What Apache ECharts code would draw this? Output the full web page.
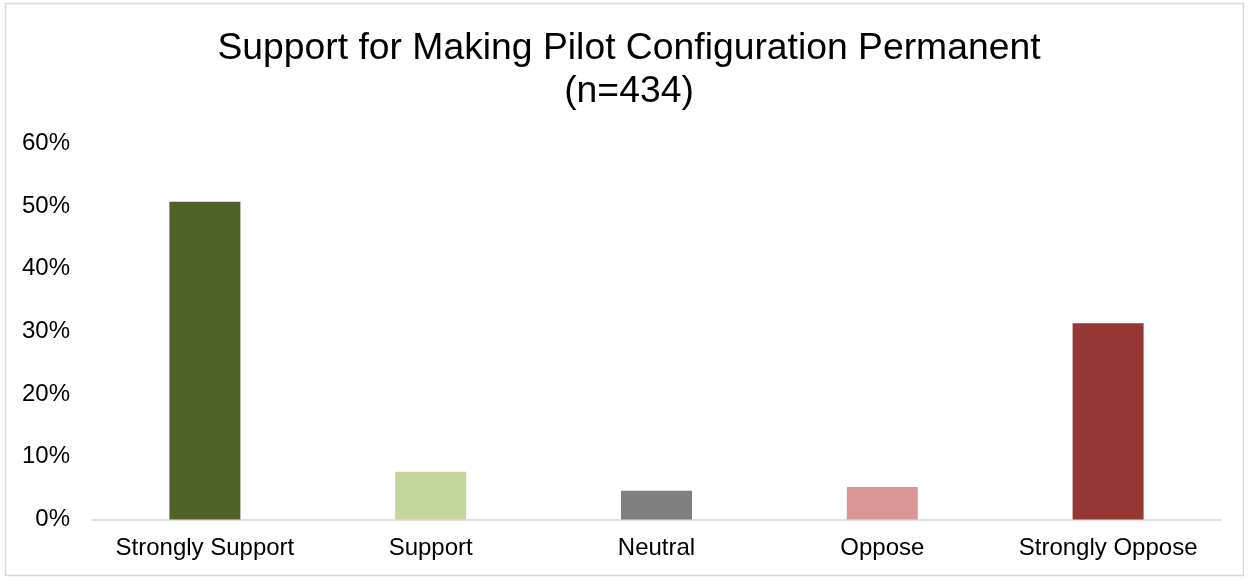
<!DOCTYPE html>
<html>
<head>
<meta charset="utf-8">
<script src="https://cdn.jsdelivr.net/npm/echarts@6/dist/echarts.min.js"></script>
<style>
  html, body { margin: 0; padding: 0; background: #fff; }
  #chart { width: 1249px; height: 579px; }
</style>
</head>
<body>
<div id="chart"></div>
<script>
const categories = ['Strongly Support', 'Support', 'Neutral', 'Oppose', 'Strongly Oppose']
const shares = [50.7, 7.6, 4.6, 5.2, 31.3]
const barColors = ['#4f6228', '#c3d69b', '#7f7f7f', '#d99694', '#953735']
const yTicks = [0, 10, 20, 30, 40, 50, 60]

const chart = echarts.init(document.getElementById('chart'))

const font = 'Liberation Sans, Arial, sans-serif'

const option = {
  backgroundColor: '#fff',
  animation: false,
  title: {
    text: 'Support for Making Pilot Configuration Permanent\n(n=434)',
    left: 624,
    top: 22,
    textAlign: 'center',
    textStyle: {
      fontFamily: font,
      fontSize: 37.3,
      fontWeight: 'normal',
      color: '#000',
      lineHeight: 43,
    },
  },
  graphic: [{
    type: 'rect',
    shape: { x: 5.5, y: 3.5, width: 1238, height: 572 },
    style: { fill: 'none', stroke: '#d9d9d9', lineWidth: 1.5 },
    silent: true,
  }],
  grid: {
    left: 92,
    right: 28,
    top: 143.5,
    bottom: 59.5,
    containLabel: false,
  },
  xAxis: {
    type: 'category',
    data: categories,
    axisLine: { lineStyle: { color: '#d9d9d9', width: 1.5 } },
    axisTick: { show: false },
    axisLabel: {
      interval: 0,
      fontFamily: font,
      fontSize: 24,
      color: '#000',
      margin: 17,
    },
  },
  yAxis: {
    type: 'value',
    min: yTicks[0],
    max: yTicks[yTicks.length - 1],
    interval: 10,
    splitLine: { show: false },
    axisLine: { show: false },
    axisTick: { show: false },
    axisLabel: {
      formatter: '{value}%',
      fontFamily: font,
      fontSize: 24,
      color: '#000',
      margin: 22,
    },
  },
  series: [{
    type: 'bar',
    data: shares.map((v, i) => ({ value: v, itemStyle: { color: barColors[i] } })),
    barWidth: 71,
  }],
}

chart.setOption(option)
</script>
</body>
</html>
